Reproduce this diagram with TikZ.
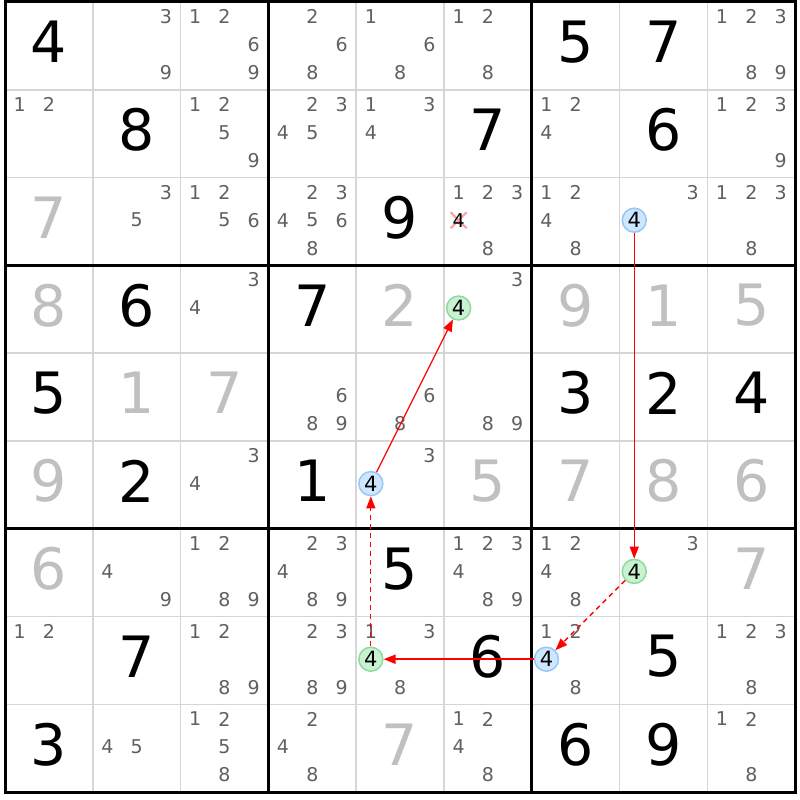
\documentclass[tikz,border=0pt]{standalone}
\usepackage{fontspec}
\setmainfont{DejaVu Sans}
\usetikzlibrary{arrows.meta}
\definecolor{candgray}{RGB}{96,96,96}
\definecolor{solvedgray}{RGB}{192,192,192}
\definecolor{thingray}{RGB}{214,214,214}
\definecolor{bluefill}{RGB}{207,230,255}
\definecolor{blueline}{RGB}{150,200,245}
\definecolor{greenfill}{RGB}{201,242,210}
\definecolor{greenline}{RGB}{140,219,156}
\definecolor{crosspink}{RGB}{255,160,160}
\definecolor{linkred}{RGB}{255,0,0}
\begin{document}
\begin{tikzpicture}[x=1pt,y=-1pt,
  given/.style={font=\fontsize{57}{57}\selectfont, text=black, inner sep=0pt},
  solved/.style={given, text=solvedgray},
  cand/.style={font=\fontsize{19}{19}\selectfont, text=candgray, inner sep=0pt},
  hlblue/.style={circle, draw=blueline, fill=bluefill, line width=1.5pt, minimum size=24pt, inner sep=0pt, font=\fontsize{21}{21}\selectfont, text=black},
  hlgreen/.style={hlblue, draw=greenline, fill=greenfill},
  link/.style={draw=linkred, line width=1.3pt, -{Triangle[length=12pt,width=9pt]}},
  weak/.style={link, dash pattern=on 5pt off 4pt},
  cellline/.style={draw=thingray, line width=1.5pt},
  boxline/.style={draw=black, line width=3pt, line cap=rect},
  crossline/.style={draw=crosspink, line width=2.2pt}]
\def\cs{87.8}
\def\ox{5}
\def\oy{2}
\useasboundingbox (0,0) rectangle (800,800);
\fill[white] (0,0) rectangle (800,800);
% thin cell lines
\foreach \i in {1,2,4,5,7,8} {
  \draw[cellline] ({\ox+\i*\cs},{\oy}) -- ({\ox+\i*\cs},{\oy+9*\cs});
  \draw[cellline] ({\ox},{\oy+\i*\cs}) -- ({\ox+9*\cs},{\oy+\i*\cs});
}
% box lines
\foreach \i in {0,3,6,9} {
  \draw[boxline] ({\ox+\i*\cs},{\oy}) -- ({\ox+\i*\cs},{\oy+9*\cs});
  \draw[boxline] ({\ox},{\oy+\i*\cs}) -- ({\ox+9*\cs},{\oy+\i*\cs});
}
% givens
\foreach \r/\c/\d in {1/1/4, 1/7/5, 1/8/7, 2/2/8, 2/6/7, 2/8/6, 3/5/9, 4/2/6, 4/4/7,
  5/1/5, 5/7/3, 5/8/2, 5/9/4, 6/2/2, 6/4/1, 7/5/5, 8/2/7, 8/6/6, 8/8/5, 9/1/3, 9/7/6, 9/8/9}
  \node[given] (g\r\c) at ({\ox+(\c-0.5)*\cs},{\oy+(\r-0.5)*\cs-4}) {\d};
% solved
\foreach \r/\c/\d in {3/1/7, 4/1/8, 4/5/2, 4/7/9, 4/8/1, 4/9/5, 5/2/1, 5/3/7, 6/1/9,
  6/6/5, 6/7/7, 6/8/8, 6/9/6, 7/1/6, 7/9/7, 9/5/7}
  \node[solved] (s\r\c) at ({\ox+(\c-0.5)*\cs},{\oy+(\r-0.5)*\cs-4}) {\d};
% candidates
\foreach \r/\c/\ds in {1/2/{3,9}, 1/3/{1,2,6,9}, 1/4/{2,6,8}, 1/5/{1,6,8}, 1/6/{1,2,8},
  1/9/{1,2,3,8,9}, 2/1/{1,2}, 2/3/{1,2,5,9}, 2/4/{2,3,4,5}, 2/5/{1,3,4}, 2/7/{1,2,4},
  2/9/{1,2,3,9}, 3/2/{3,5}, 3/3/{1,2,5,6}, 3/4/{2,3,4,5,6,8}, 3/6/{1,2,3,8},
  3/7/{1,2,4,8}, 3/8/{3}, 3/9/{1,2,3,8}, 4/3/{3,4}, 4/6/{3}, 5/4/{6,8,9}, 5/5/{6,8},
  5/6/{8,9}, 6/3/{3,4}, 6/5/{3}, 7/2/{4,9}, 7/3/{1,2,8,9}, 7/4/{2,3,4,8,9},
  7/6/{1,2,3,4,8,9}, 7/7/{1,2,4,8}, 7/8/{3}, 8/1/{1,2}, 8/3/{1,2,8,9}, 8/4/{2,3,8,9},
  8/5/{1,3,8}, 8/7/{1,2,8}, 8/9/{1,2,3,8}, 9/2/{4,5}, 9/3/{1,2,5,8}, 9/4/{2,4,8},
  9/6/{1,2,4,8}, 9/9/{1,2,8}} {
  \foreach \d in \ds {
    \pgfmathtruncatemacro\kk{mod(\d-1,3)}
    \pgfmathtruncatemacro\mm{div(\d-1,3)}
    \node[cand] (k\r\c\d) at ({\ox+(\c-1)*\cs+(\kk+0.5)*\cs/3},{\oy+(\r-1)*\cs+14.6+\mm*28}) {\d};
  }
}
% eliminated candidate r3c6 4
\coordinate (x36) at ({\ox+5*\cs+0.5*\cs/3},{\oy+2*\cs+14.6+28});
\draw[crossline] ([shift={(-8,-8)}]x36) -- ([shift={(8,8)}]x36);
\draw[crossline] ([shift={(-8,8)}]x36) -- ([shift={(8,-8)}]x36);
\node[cand, text=black] (k364) at (x36) {4};
% highlighted candidates (digit 4, middle-left position)
\foreach \r/\c/\st in {3/8/hlblue, 6/5/hlblue, 8/7/hlblue, 4/6/hlgreen, 7/8/hlgreen, 8/5/hlgreen}
  \node[\st] (h\r\c) at ({\ox+(\c-1)*\cs+0.5*\cs/3},{\oy+(\r-1)*\cs+14.6+28}) {4};
% chain
\draw[link] (h38) -- (h78);
\draw[weak] (h78) -- (h87);
\draw[link, line width=2pt] (h87) -- (h85);
\draw[weak] (h85) -- (h65);
\draw[link] (h65) -- (h46);
\end{tikzpicture}
\end{document}
